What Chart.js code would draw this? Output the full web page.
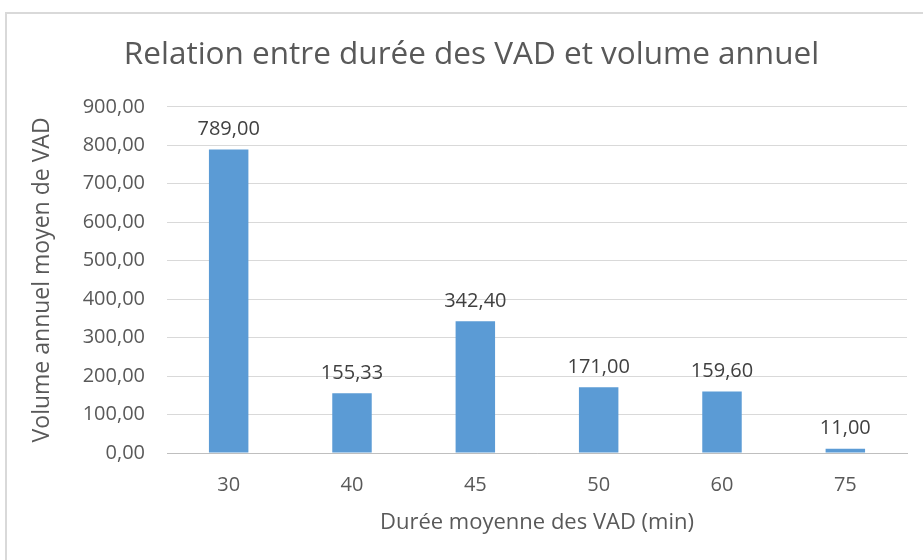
<!DOCTYPE html>
<html>
<head>
<meta charset="utf-8">
<script src="https://cdn.jsdelivr.net/npm/chart.js@4"></script>
<style>
  body { margin: 0; background: #fff; overflow: hidden; }
  #frame { position: absolute; left: 5px; top: 12px; width: 940px; height: 560px; border: 2px solid #d9d9d9; }
  #wrap { position: absolute; left: 0; top: 0; width: 923px; height: 560px; }
</style>
</head>
<body>
<div id="frame"></div>
<div id="wrap"><canvas id="chart" width="923" height="560"></canvas></div>
<script>
// Durée moyenne (min) et volume annuel moyen
const durees = ['30', '40', '45', '50', '60', '75'];
const volumes = [789.00, 155.33, 342.40, 171.00, 159.60, 11.00];
const yTicks = [0, 100, 200, 300, 400, 500, 600, 700, 800, 900];

const FONT = '"Open Sans", "DejaVu Sans", sans-serif';
const fmt = v => v.toFixed(2).replace('.', ',');

// étiquettes de valeur au-dessus des barres
const valueLabels = {
    id: 'valueLabels',
    afterDatasetsDraw(chart) {
        const ctx = chart.ctx;
        const meta = chart.getDatasetMeta(0);
        ctx.save();
        ctx.font = '20px ' + FONT;
        ctx.fillStyle = '#404040';
        ctx.textAlign = 'center';
        ctx.textBaseline = 'bottom';
        meta.data.forEach((bar, i) => {
            ctx.fillText(fmt(volumes[i]), bar.x, bar.y - 10);
        });
        ctx.restore();
    }
};

new Chart(document.getElementById('chart'), {
    type: 'bar',
    data: {
        labels: durees,
        datasets: [{
            data: volumes,
            backgroundColor: '#5b9bd5',
            borderWidth: 0,
            barPercentage: 0.64,
            categoryPercentage: 0.5
        }]
    },
    options: {
        responsive: false,
        animation: false,
        layout: { padding: { left: 36, right: 16, top: 0, bottom: 0 } },
        plugins: {
            legend: { display: false },
            tooltip: { enabled: false },
            title: {
                display: true,
                text: 'Relation entre durée des VAD et volume annuel',
                color: '#595959',
                font: { family: FONT, size: 31.5, weight: 'normal' },
                padding: { top: 36, bottom: 33 }
            }
        },
        scales: {
            x: {
                grid: { display: false, drawTicks: false },
                border: { color: '#bfbfbf', width: 1 },
                ticks: { color: '#595959', font: { family: FONT, size: 20 }, padding: 20 },
                title: {
                    display: true,
                    text: 'Durée moyenne des VAD (min)',
                    color: '#595959',
                    font: { family: FONT, size: 22 },
                    padding: { top: 0, bottom: 24 }
                },
                afterFit(scale) { scale.height = 107; }
            },
            y: {
                min: 0,
                max: 900,
                afterBuildTicks(scale) { scale.ticks = yTicks.map(v => ({ value: v })); },
                grid: { color: '#d9d9d9', drawTicks: false },
                border: { display: false },
                ticks: {
                    color: '#595959',
                    font: { family: FONT, size: 20 },
                    padding: 22,
                    callback: v => fmt(v)
                },
                title: {
                    display: true,
                    text: 'Volume annuel moyen de VAD',
                    color: '#595959',
                    font: { family: FONT, size: 23 },
                    padding: { top: -7, bottom: 0 }
                },
                afterFit(scale) { scale.width = 131; }
            }
        }
    },
    plugins: [valueLabels]
});
</script>
</body>
</html>
